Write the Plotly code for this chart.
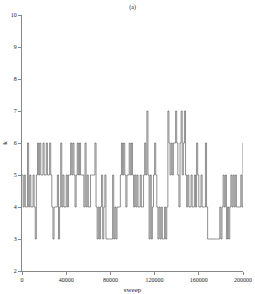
import plotly.graph_objects as go

sweep_step = 1000
k_values = [
    5, 4, 5, 4, 4, 6, 4, 5, 4, 4, 5, 4,          # 0-11
    3, 5, 6, 5, 6, 5, 5, 6, 5, 5, 6, 5, 5, 6, 5,  # 12-26
    4, 3, 4, 4, 4, 5, 3, 4, 6,                    # 27-35
    4, 5, 4, 4, 5, 4,                             # 36-41
    5, 5, 6, 5, 6, 5, 4, 5, 6, 5, 6, 5, 5, 5, 4, 6, 4, 5, 4, 4, 5, 5, 5, 5, 6,  # 42-66
    4, 3, 4, 3, 4, 5, 3, 4, 5, 3, 3, 3, 3, 3, 3, 5, 3, 4, 3, 4, 4, 4,  # 67-87
    5, 6, 5, 6, 5, 4, 5, 5, 6, 5, 6, 5, 4,        # 88-100
    5, 4, 5, 4, 4, 5, 4, 4, 5, 6,                 # 101-110
    5, 7, 5, 3, 5, 3, 4, 5, 6, 5,                 # 111-120
    4, 3, 4, 3, 4, 3, 3, 4, 3, 4,                 # 121-130
    7, 6, 5, 6, 5, 6, 6,                          # 131-137
    7, 6, 5, 4, 6, 7, 5, 6, 7, 5,                 # 138-147
    4, 5, 4, 4, 5, 4, 4, 5, 4, 6, 5, 4, 4, 5, 4, 4, 4, 6, 4,  # 148-166
    3, 3, 3, 3, 3, 3, 3, 3, 3, 3, 3, 4,           # 167-178
    3, 4, 5, 4, 5, 3, 4, 3,                       # 179-186
    4, 5, 4, 5, 4, 5, 4, 4, 4, 4, 5, 4,           # 187-198
    6, 6,                                         # 199-200
]
sweeps = [i * sweep_step for i in range(len(k_values))]

x_ticks = [0, 40000, 80000, 120000, 160000, 200000]
y_ticks = [2, 3, 4, 5, 6, 7, 8, 9, 10]

font_family = "Liberation Serif"

fig = go.Figure()
fig.add_trace(go.Scatter(
    x=sweeps, y=k_values, mode="lines", line_shape="hv",
    line=dict(color="#444444", width=0.6), showlegend=False,
))

axis_common = dict(
    showgrid=False, zeroline=False, showline=True, linecolor="#888888",
    linewidth=1, ticks="outside", ticklen=3, tickcolor="#888888",
    tickfont=dict(family=font_family, size=6, color="#222222"),
    ticklabeloverflow="allow", automargin=False,
)
fig.update_xaxes(range=[0, 200000], tickvals=x_ticks,
                 ticktext=[str(v) for v in x_ticks],
                 title=dict(text="sweep", font=dict(family=font_family, size=7, color="#222222"), standoff=4),
                 **axis_common)
fig.update_yaxes(range=[2, 10], tickvals=y_ticks,
                 title=dict(text="k", font=dict(family=font_family, size=7, color="#222222"), standoff=2),
                 **axis_common)
fig.update_layout(
    width=255, height=294,
    margin=dict(l=22, r=12, t=15, b=23),
    paper_bgcolor="white", plot_bgcolor="white",
    font=dict(family=font_family, color="#222222"),
    title=dict(text="(a)", x=0.52, xanchor="center", y=0.976, yanchor="middle",
               font=dict(family=font_family, size=6, color="#222222")),
)
fig.write_html("out.html", config={"displayModeBar": False},
               post_script="document.body.style.margin='0';document.body.style.padding='0';")
